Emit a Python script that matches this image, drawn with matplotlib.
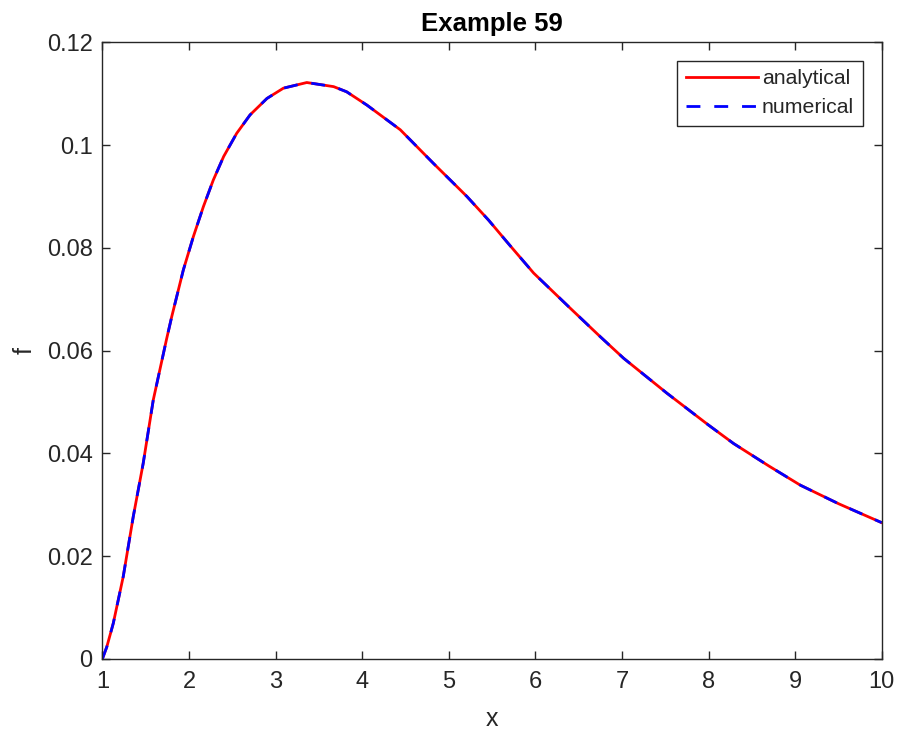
import matplotlib
matplotlib.use('Agg')
import matplotlib.pyplot as plt

# values
x = [1.0, 1.05, 1.125, 1.24, 1.356, 1.47, 1.587, 1.74, 1.80, 1.934, 2.05, 2.165,
     2.28, 2.40, 2.55, 2.705, 2.90, 3.09, 3.36, 3.67, 3.82, 4.055, 4.44, 4.82,
     5.21, 5.46, 5.7, 5.98, 6.4, 6.75, 7.02, 7.52, 8.0, 8.29, 8.7, 9.06, 9.5, 10.0]
f_analytical = [0.0, 0.0023, 0.0069, 0.0160, 0.0277, 0.0380, 0.0504, 0.0622, 0.0666,
                0.0757, 0.0822, 0.0880, 0.0932, 0.0978, 0.1023, 0.1059, 0.1091, 0.1111,
                0.1122, 0.1114, 0.1104, 0.1078, 0.1030, 0.0965, 0.0900, 0.0854, 0.0806,
                0.0751, 0.0683, 0.0627, 0.0585, 0.0517, 0.0455, 0.0419, 0.0375, 0.0338,
                0.0302, 0.0265]
f_numerical = list(f_analytical)

xticks = list(range(1, 11))
yticks = [0, 0.02, 0.04, 0.06, 0.08, 0.1, 0.12]
ytick_labels = ['0', '0.02', '0.04', '0.06', '0.08', '0.1', '0.12']

plt.rcParams['font.family'] = ['Liberation Sans', 'DejaVu Sans']
gray = '#262626'

fig = plt.figure(figsize=(8.98, 7.36), dpi=100)
ax = fig.add_axes([0.1141, 0.105, 0.8677, 0.8373])

ax.plot(x, f_analytical, color='red', lw=2, label='analytical')
ax.plot(x, f_numerical, color='blue', lw=2, ls=(0, (5, 5)), label='numerical')

ax.set_xlim(1, 10)
ax.set_ylim(0, 0.12)
ax.set_xticks(xticks)
ax.set_yticks(yticks)
ax.set_yticklabels(ytick_labels)
ax.tick_params(direction='in', length=6, width=1, colors=gray, labelsize=17,
               top=True, right=True)
ax.tick_params(axis='x', pad=9)
ax.tick_params(axis='y', pad=7)
for s in ax.spines.values():
    s.set_color(gray)
    s.set_linewidth(1)

ax.set_xlabel('x', fontsize=18, color=gray, labelpad=10)
ax.set_ylabel('f', fontsize=18, color=gray, labelpad=7)
ax.set_title('Example 59', fontsize=18.5, fontweight='bold', color='black', pad=8)

leg = ax.legend(loc='upper right', fontsize=15.3, handlelength=3.4, handletextpad=0.2,
                borderpad=0.4, labelspacing=0.45, fancybox=False, framealpha=1,
                edgecolor=gray, borderaxespad=0, bbox_to_anchor=(0.9756, 0.970))
leg.get_frame().set_linewidth(1)
for t in leg.get_texts():
    t.set_color(gray)

fig.savefig('out.png', dpi=100)
